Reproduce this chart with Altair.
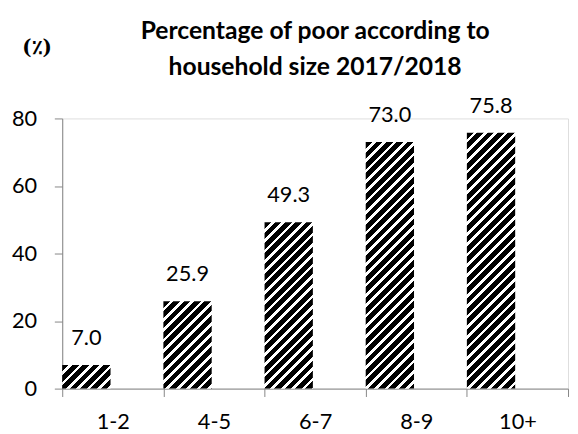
import altair as alt
import pandas as pd

categories = ["1-2", "4-5", "6-7", "8-9", "10+"]
values = [7.0, 25.9, 49.3, 73.0, 75.8]
y_ticks = [0, 20, 40, 60, 80]
title_lines = ["Percentage of poor according to", "household size 2017/2018"]
unit_label = "(٪)"

W, H = 513, 274
YMAX = 80
BAND = W / len(categories)
BAR_W = 49
BAR_SHIFT = -(BAND / 2 - BAR_W / 2)
PERIOD = 10.5     # horizontal stripe period in px
BLACK = 0.64      # share of black in each period
FONT = "Lato"

df = pd.DataFrame({"size": categories, "pct": values})


def stripe_gradient(val):
    w = BAR_W
    h = max(val / YMAX * H, 1.0)
    c = (w + h) / (w * w + h * h)
    n = (w + h) / PERIOD
    stops = []
    j = 0
    while j < n:
        a = j / n
        b = min((j + BLACK) / n, 1.0)
        e = min((j + 1) / n, 1.0)
        stops += [
            {"offset": a, "color": "black"},
            {"offset": b, "color": "black"},
        ]
        if b < 1.0:
            stops += [
                {"offset": b, "color": "white"},
                {"offset": e, "color": "white"},
            ]
        j += 1
    return {
        "gradient": "linear",
        "x1": 0, "y1": 0,
        "x2": w * c, "y2": h * c,
        "stops": stops,
    }


x_enc = alt.X(
    "size:N",
    sort=categories,
    scale=alt.Scale(paddingInner=0, paddingOuter=0),
    axis=alt.Axis(
        title=None, labelAngle=0, tickBand="extent", tickSize=8,
        labelPadding=15, labelFontSize=22, labelFont=FONT, labelColor="black",
        domainColor="#868686", tickColor="#868686", domainWidth=1,
    ),
)
y_enc = alt.Y(
    "pct:Q",
    scale=alt.Scale(domain=[0, YMAX], nice=False),
    axis=alt.Axis(
        values=y_ticks, grid=False, tickSize=8, labelPadding=18,
        labelFontSize=22, labelFont=FONT, labelColor="black",
        domainColor="#868686", tickColor="#868686",
        title=unit_label, titleAngle=0, titleX=-26, titleY=-72,
        titleFont="DejaVu Serif", titleFontSize=20, titleFontWeight="bold",
        titleAlign="center", titleBaseline="middle",
    ),
)

base = alt.Chart(df)
layers = []
for cat, val in zip(categories, values):
    layers.append(
        base.transform_filter(alt.datum.size == cat)
        .mark_bar(width=BAR_W, xOffset=BAR_SHIFT, fill=stripe_gradient(val))
        .encode(x=x_enc, y=y_enc)
    )

labels = base.mark_text(
    dy=-20, baseline="alphabetic", fontSize=22, font=FONT, color="black",
    xOffset=BAR_SHIFT,
).encode(x=x_enc, y=y_enc, text=alt.Text("pct:Q", format=".1f"))

chart = (
    alt.layer(*layers, labels)
    .properties(
        width=W, height=H,
        autosize=alt.AutoSizeParams(type="none"),
        padding={"left": 55, "top": 109, "right": 2, "bottom": 43},
        title=alt.Title(
            title_lines, anchor="middle", frame="group", fontSize=25, font=FONT,
            fontWeight="bold", color="black", lineHeight=37, offset=-43,
        ),
    )
    .configure_view(stroke=None)
    .configure(background="white")
)

chart.save("out.html", embed_options={"renderer": "svg", "actions": False})
